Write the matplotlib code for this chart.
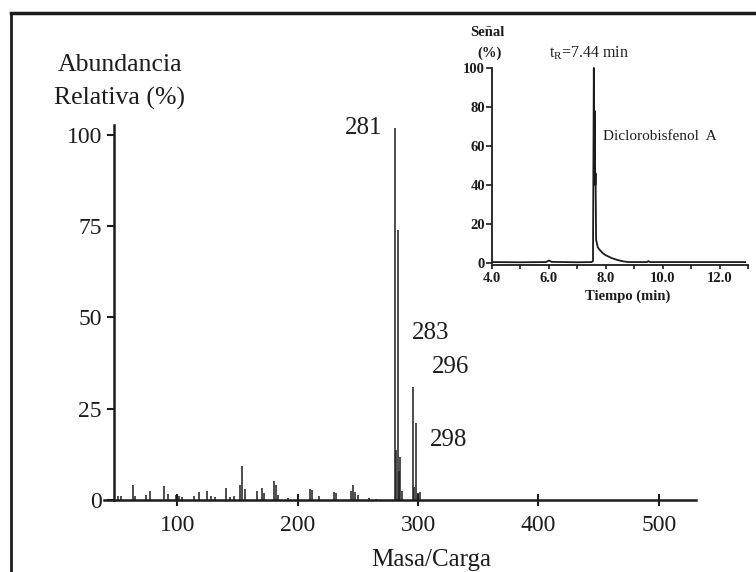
import matplotlib
matplotlib.use("Agg")
import matplotlib.pyplot as plt
from matplotlib.lines import Line2D

W, H = 756, 572
plt.rcParams['font.family'] = ['Liberation Serif', 'DejaVu Serif']
plt.rcParams['mathtext.fontset'] = 'custom'
plt.rcParams['mathtext.rm'] = 'Liberation Serif'

# ---- mass spectrum data (m/z, relative abundance %) ----
mz = [51, 53, 63, 65, 74, 77, 89, 92, 99, 101, 104, 114, 118, 125, 128, 131,
      140, 144, 147, 152, 154, 156, 166, 170, 172, 180, 182, 184, 192, 210,
      212, 218, 230, 232, 244, 246, 248, 250, 259, 265,
      281, 282, 283, 284, 285, 287, 296, 297, 298, 300, 302]
abund = [1.2, 1.0, 4.0, 1.0, 1.5, 2.4, 3.8, 1.6, 1.4, 1.0, 0.8, 1.0, 2.2, 2.5, 1.2, 0.7,
         3.3, 0.8, 1.2, 4.0, 9.3, 3.0, 2.5, 3.4, 2.0, 5.2, 4.0, 1.5, 0.5, 2.9,
         2.7, 1.2, 2.3, 1.9, 2.5, 4.2, 2.1, 1.5, 0.5, 0.4,
         102.0, 13.6, 74.0, 8.0, 11.7, 2.5, 31.0, 3.5, 21.0, 1.8, 2.1]
peak_labels = ["281", "283", "296", "298"]
peak_label_pos = [(270.5, 101.9, 'right'), (294.8, 45.8, 'left'),
                  (311.4, 36.4, 'left'), (309.8, 16.4, 'left')]
x_ticks = [100, 200, 300, 400, 500]
y_ticks = [0, 25, 50, 75, 100]

# ---- chromatogram data (time min, signal %) ----
t = [4.0, 5.0, 5.9, 6.0, 6.1, 7.0, 7.5, 7.55, 7.58, 7.60, 7.61, 7.63, 7.64,
     7.66, 7.72, 7.8, 7.9, 8.0, 8.2, 8.4, 8.6, 8.8, 9.45, 9.5, 9.55, 12.9]
sig = [0.5, 0.4, 0.5, 1.3, 0.6, 0.4, 0.5, 1.0, 100.0, 50.0, 78.0, 40.0, 46.0,
       12.0, 8.0, 6.5, 5.0, 4.0, 2.6, 1.6, 0.9, 0.5, 0.5, 1.0, 0.5, 0.5]
inset_xticks = [4, 5, 6, 7, 8, 9, 10, 11, 12, 13]
inset_xlabels = ["4.0", "", "6.0", "", "8.0", "", "10.0", "", "12.0", ""]
inset_yticks = [0, 20, 40, 60, 80, 100]

ink = '#1c1c1c'
fig = plt.figure(figsize=(W / 100, H / 100), dpi=100)

def fx(px):
    return px / W

def fy(py):
    return 1 - py / H

# outer frame (left and top borders)
fig.add_artist(Line2D([fx(11), fx(11)], [fy(13), 0], transform=fig.transFigure,
                      color=ink, lw=2.0))
fig.add_artist(Line2D([fx(11), 1], [fy(13), fy(13)], transform=fig.transFigure,
                      color=ink, lw=2.5))

# ---- main axes ----
ax = fig.add_axes([fx(104), fy(500), (696 - 104) / W, (500 - 124) / H])
ax.vlines(mz, 0, abund, color=ink, lw=1.1)
ax.set_xlim(39, 531)
ax.set_ylim(0, 103)
for s in ['top', 'right']:
    ax.spines[s].set_visible(False)
ax.spines['left'].set_position(('data', 47.6))
ax.spines['left'].set_bounds(0, 102.7)
ax.spines['left'].set_color(ink)
ax.spines['bottom'].set_color(ink)
ax.spines['left'].set_linewidth(1.8)
ax.spines['bottom'].set_linewidth(1.8)
ax.set_xticks(x_ticks)
ax.set_yticks(y_ticks)
ax.tick_params(axis='x', direction='inout', length=9, width=1.5, labelsize=17,
               pad=6, colors=ink)
ax.tick_params(axis='y', direction='out', length=5, width=1.5, labelsize=17,
               pad=4, colors=ink)
ax.set_xlabel("Masa/Carga", fontsize=18, color=ink, labelpad=0)
ax.xaxis.set_label_coords((431 - 104) / (696 - 104), -(549 - 500) / 376)
for lab, (x, y, ha) in zip(peak_labels, peak_label_pos):
    ax.text(x, y, lab, fontsize=18, ha=ha, va='center', color=ink)

fig.text(fx(120), fy(65), "Abundancia", fontsize=18.5, ha='center', va='center', color=ink)
fig.text(fx(120), fy(98), "Relativa (%)", fontsize=18.5, ha='center', va='center', color=ink)

# ---- inset chromatogram ----
ia = fig.add_axes([fx(492), fy(265), (748 - 492) / W, (265 - 66) / H])
ia.plot(t, sig, color=ink, lw=1.3)
ia.set_xlim(4.0, 13.0)
ia.set_ylim(-1, 101)
for s in ['top', 'right']:
    ia.spines[s].set_visible(False)
ia.spines['left'].set_bounds(0, 100)
for s in ['left', 'bottom']:
    ia.spines[s].set_color(ink)
    ia.spines[s].set_linewidth(1.3)
ia.set_xticks(inset_xticks)
ia.set_xticklabels(inset_xlabels)
ia.set_yticks(inset_yticks)
ia.tick_params(axis='x', direction='out', length=3, width=1.2, labelsize=10.5,
               pad=2, colors=ink)
ia.tick_params(axis='y', direction='out', length=4, width=1.2, labelsize=10.5,
               pad=1, colors=ink)
for lab in ia.get_xticklabels() + ia.get_yticklabels():
    lab.set_fontweight('bold')

fig.text(fx(487), fy(32), "Señal", fontsize=10.5, ha='center', va='center',
         color=ink, fontweight='bold')
fig.text(fx(490), fy(53), "(%)", fontsize=10.5, ha='center', va='center',
         color=ink, fontweight='bold')
fig.text(fx(589), fy(53), r"t$_\mathregular{R}$=7.44 min", fontsize=11.5,
         ha='center', va='center', color=ink)
fig.text(fx(603), fy(137), "Diclorobisfenol  A", fontsize=11, ha='left',
         va='center', color=ink)
fig.text(fx(628), fy(296), "Tiempo (min)", fontsize=10.5, ha='center',
         va='center', color=ink, fontweight='bold')

fig.savefig("out.png", dpi=100)
